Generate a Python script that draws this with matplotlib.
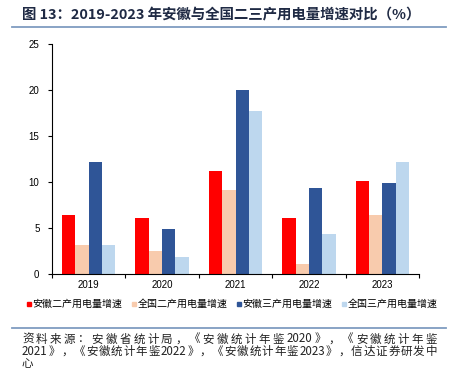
import matplotlib
matplotlib.use("Agg")
import matplotlib.pyplot as plt
import numpy as np
import re
from matplotlib.lines import Line2D

plt.rcParams['font.family'] = ['Noto Sans CJK SC', 'DejaVu Sans']

years = ['2019', '2020', '2021', '2022', '2023']
ah_second = [6.4, 6.1, 11.2, 6.1, 10.1]
cn_second = [3.1, 2.5, 9.1, 1.1, 6.4]
ah_third = [12.2, 4.9, 20.0, 9.4, 9.9]
cn_third = [3.1, 1.8, 17.7, 4.4, 12.2]
series_names = ['安徽二产用电量增速', '全国二产用电量增速', '安徽三产用电量增速', '全国三产用电量增速']
colors = ['#FF0000', '#F8CBAD', '#2F5597', '#BDD7EE']
title = '图 13：2019-2023 年安徽与全国二三产用电量增速对比（%）'
source_lines = ['资料来源：安徽省统计局，《安徽统计年鉴 2020》，《安徽统计年鉴',
                '2021》，《安徽统计年鉴 2022》，《安徽统计年鉴 2023》，信达证券研发中',
                '心']

W, H = 453, 376
fig = plt.figure(figsize=(W / 100, H / 100), dpi=100)
ax = fig.add_axes([52/W, 1-274/H, (419-52)/W, (274-44)/H])

x = np.arange(len(years))
w = 0.182
data = [ah_second, cn_second, ah_third, cn_third]
for i, (vals, c) in enumerate(zip(data, colors)):
    ax.bar(x + (i - 1.5) * w, vals, width=w, color=c, edgecolor='none')

ax.set_xlim(-0.5, len(years) - 0.5)
ax.set_ylim(0, 25)
ax.set_yticks([0, 5, 10, 15, 20, 25])
ax.set_xticks(x)
ax.set_xticklabels(years, fontsize=7, family=['Liberation Sans', 'DejaVu Sans'])
ax.set_xticks(np.arange(len(years) + 1) - 0.5, minor=True)
ax.tick_params(axis='x', which='major', length=0, pad=4)
ax.tick_params(axis='x', which='minor', length=3, width=0.8, direction='out')
ax.tick_params(axis='y', length=3, width=0.8, direction='out', labelsize=7, pad=6)
for lab in ax.get_yticklabels():
    lab.set_family(['Liberation Sans', 'DejaVu Sans'])
for s in ['top', 'right']:
    ax.spines[s].set_visible(False)
ax.spines['left'].set_linewidth(0.8)
ax.spines['bottom'].set_linewidth(0.8)

handles = [Line2D([], [], marker='s', linestyle='none', color=c, markersize=3.5) for c in colors]
fig.legend(handles, series_names, loc='center', bbox_to_anchor=(231/W, 1-304/H), ncol=4,
           frameon=False, fontsize=7.2, handletextpad=0.0, columnspacing=0.7, handlelength=0.8)

fig.text(22/W, 1-15/H, title, fontsize=10.4, fontweight='bold', color='#1F2A44', va='center', ha='left')
fig.add_artist(Line2D([12/W, 446/W], [1-27/H, 1-27/H], color='#7F9CC0', linewidth=1.3))
fig.add_artist(Line2D([12/W, 446/W], [1-327.5/H, 1-327.5/H], color='#7F9CC0', linewidth=1.3))

# justified source note
renderer = fig.canvas.get_renderer()
x0, x1 = 22, 437
ys = [339, 351.5, 364]
for li, (line, yy) in enumerate(zip(source_lines, ys)):
    tokens = re.findall(r'[0-9]+|\S', line)
    arts = [fig.text(0, 1-yy/H, t, fontsize=8.3, style='italic', color='#222222',
                     va='center', ha='left') for t in tokens]
    widths = [a.get_window_extent(renderer).width for a in arts]
    if li < len(source_lines) - 1 and len(tokens) > 1:
        gap = (x1 - x0 - sum(widths)) / (len(tokens) - 1)
    else:
        gap = 0
    pos = x0
    for a, wd in zip(arts, widths):
        a.set_x(pos / W)
        pos += wd + gap

fig.savefig('out.png', dpi=100)
